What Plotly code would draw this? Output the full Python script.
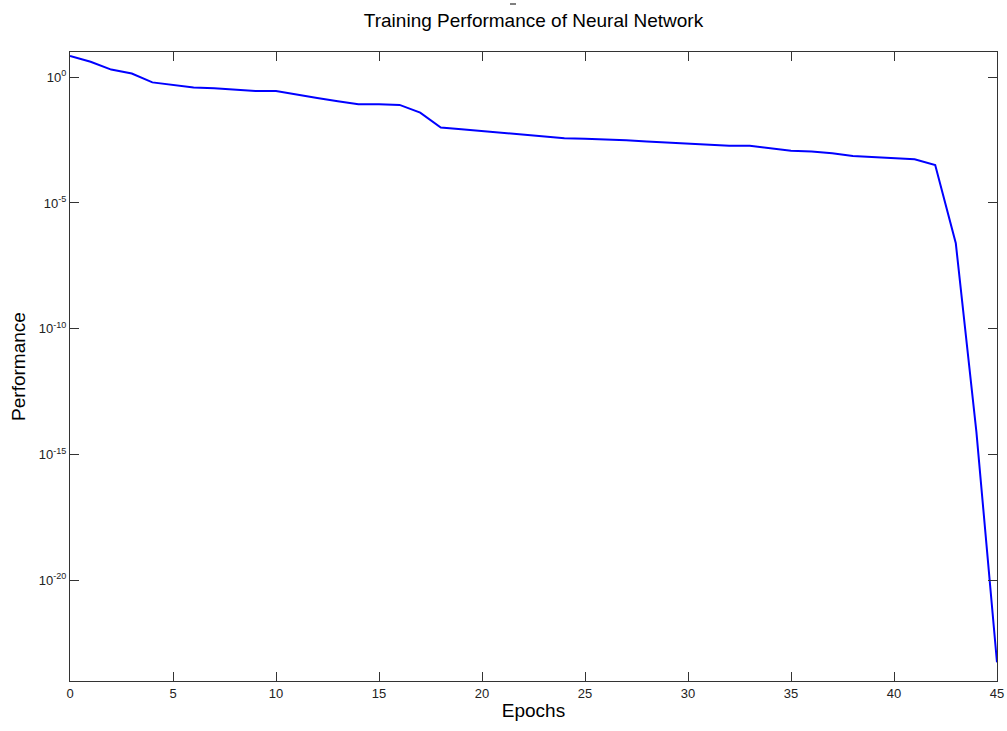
import plotly.graph_objects as go

epochs = list(range(46))
performance = [
    6.9, 4.1, 2.0, 1.4, 0.62, 0.48, 0.39, 0.36, 0.32, 0.28,
    0.28, 0.20, 0.15, 0.11, 0.083, 0.083, 0.079, 0.039, 0.010, 0.0085,
    0.0072, 0.0060, 0.0050, 0.0041, 0.0037, 0.0036, 0.0034, 0.0031, 0.0028, 0.0025,
    0.0023, 0.0021, 0.0019, 0.00186, 0.0015, 0.0012, 0.0011, 0.00095, 0.00074, 0.00068,
    0.00059, 0.00055, 0.00032, 2.5e-7, 8e-15, 5.5e-24,
]
y_tick_vals = [1e0, 1e-5, 1e-10, 1e-15, 1e-20]
y_tick_text = ["10<sup>0</sup>", "10<sup>-5</sup>", "10<sup>-10</sup>", "10<sup>-15</sup>", "10<sup>-20</sup>"]
x_tick_vals = [0, 5, 10, 15, 20, 25, 30, 35, 40, 45]

FONT = "Liberation Sans, Arial, sans-serif"

fig = go.Figure()
fig.add_trace(go.Scatter(
    x=epochs, y=performance, mode="lines",
    line=dict(color="#0000ff", width=2),
    showlegend=False,
))

W, H = 1007, 731
L, R, T, B = 70, 10, 52, 50

fig.update_layout(
    width=W, height=H,
    margin=dict(l=L, r=R, t=T, b=B, autoexpand=False),
    paper_bgcolor="white", plot_bgcolor="white",
    font=dict(family=FONT, color="black", size=13),
    title=dict(
        text="Training Performance of Neural Network",
        x=(L + (W - R)) / 2 / W, xanchor="center",
        y=1 - 20 / H, yanchor="middle",
        font=dict(size=19, family=FONT, color="black"),
    ),
    xaxis=dict(
        range=[0, 45], tickvals=x_tick_vals,
        ticks="inside", ticklen=9, tickcolor="#333",
        showline=True, linecolor="#333", linewidth=1, mirror="ticks",
        showgrid=False, zeroline=False, automargin=False,
        tickfont=dict(size=13, color="#222"),
        title=dict(text="Epochs", font=dict(size=19), standoff=4),
    ),
    yaxis=dict(
        type="log", range=[-24, 1],
        tickvals=y_tick_vals, ticktext=y_tick_text,
        ticks="inside", ticklen=9, tickcolor="#333",
        showline=True, linecolor="#333", linewidth=1, mirror="ticks",
        showgrid=False, zeroline=False, automargin=False,
        tickfont=dict(size=13, color="#222"),
        title=dict(text="Performance", font=dict(size=19), standoff=8),
    ),
)

fig.add_shape(type="line", xref="paper", yref="paper",
              x0=(510 - L) / (W - L - R), x1=(516 - L) / (W - L - R),
              y0=1 + (T - 4) / (H - T - B), y1=1 + (T - 4) / (H - T - B),
              line=dict(color="black", width=1))

fig.write_html("out.html")
